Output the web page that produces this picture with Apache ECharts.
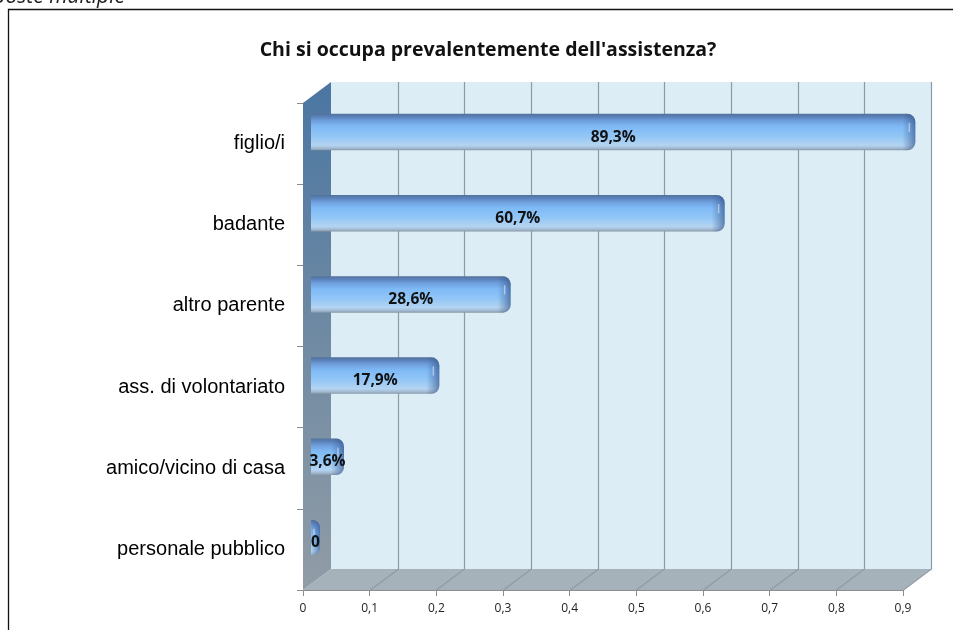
<!DOCTYPE html>
<html>
<head>
<meta charset="utf-8">
<script src="https://cdn.jsdelivr.net/npm/echarts@6/dist/echarts.min.js"></script>
<style>
  html, body { margin: 0; padding: 0; background: #ffffff; }
  #chart { width: 953px; height: 630px; }
</style>
</head>
<body>
<div id="chart"></div>
<script>
// Who mainly provides care (multiple answers allowed)
const categories = [
  'figlio/i',
  'badante',
  'altro parente',
  'ass. di volontariato',
  'amico/vicino di casa',
  'personale pubblico'
];
const shares = [0.893, 0.607, 0.286, 0.179, 0.036, 0];

const axisMin = 0;
const axisMax = 0.9;
const axisStep = 0.1;

const titleText = "Chi si occupa prevalentemente dell'assistenza?";
const noteText = 'Risposte multiple';

// perspective offset of the back wall relative to the front plane
const DEPTH_X = 28;
const DEPTH_Y = -21;

function shareLabel(v) {
  return v === 0 ? '0' : (v * 100).toFixed(1).replace('.', ',') + '%';
}
function tickLabel(v) {
  return v === 0 ? '0' : (Math.round(v * 10) / 10).toFixed(1).replace('.', ',');
}

// back wall, floor, left wall and the receding grid lines
function renderWalls(params, api) {
  const cs = params.coordSys;
  const left = cs.x, top = cs.y;
  const right = cs.x + cs.width, bottom = cs.y + cs.height;
  const children = [];
  children.push({
    type: 'rect',
    shape: { x: left + DEPTH_X, y: top + DEPTH_Y, width: cs.width, height: cs.height },
    style: { fill: '#dcedf6' }
  });
  children.push({
    type: 'polygon',
    shape: { points: [[left, bottom], [left + DEPTH_X, bottom + DEPTH_Y], [right + DEPTH_X, bottom + DEPTH_Y], [right, bottom]] },
    style: { fill: '#a5b2b9' }
  });
  const steps = Math.round((axisMax - axisMin) / axisStep);
  for (let k = 1; k <= steps; k++) {
    const x = Math.round(api.coord([axisMin + k * axisStep, 0])[0]) + 0.5;
    children.push({
      type: 'polyline',
      shape: { points: [[x, bottom], [x + DEPTH_X, bottom + DEPTH_Y], [x + DEPTH_X, top + DEPTH_Y]] },
      style: { stroke: '#8f9ba3', lineWidth: 1.2, fill: null }
    });
  }
  children.push({
    type: 'polygon',
    shape: { points: [[left, top], [left + DEPTH_X, top + DEPTH_Y], [left + DEPTH_X, bottom + DEPTH_Y], [left, bottom]] },
    style: {
      fill: new echarts.graphic.LinearGradient(0, 0, 0, 1, [
        { offset: 0, color: '#4a76a2' },
        { offset: 0.5, color: '#6f8aa3' },
        { offset: 1, color: '#919ca6' }
      ])
    }
  });
  return { type: 'group', children: children };
}

// bevelled horizontal bar sitting halfway into the depth
function renderBar(params, api) {
  const v = api.value(0);
  const idx = api.value(1);
  const base = api.coord([0, idx]);
  const end = api.coord([v, idx]);
  const band = api.size([0, 1])[1];
  const h = band * 0.45;
  const cy = base[1] + DEPTH_Y / 2 - 1;
  const x0 = base[0] + 8;
  const x1 = Math.max(end[0] + DEPTH_X / 2 + 3, x0 + 9);
  const top = cy - h / 2;
  const w = x1 - x0;
  const capW = Math.min(13, w);
  return {
    type: 'group',
    children: [
      {
        type: 'rect',
        shape: { x: x0, y: top, width: w, height: h, r: [0, 8, 8, 0] },
        style: {
          fill: new echarts.graphic.LinearGradient(0, 0, 0, 1, [
            { offset: 0, color: '#52729b' },
            { offset: 0.08, color: '#5a80b8' },
            { offset: 0.18, color: '#6c9cda' },
            { offset: 0.35, color: '#7fbaf6' },
            { offset: 0.62, color: '#92c6f6' },
            { offset: 0.86, color: '#b4d4f1' },
            { offset: 0.94, color: '#a3bcd5' },
            { offset: 1, color: '#8796a6' }
          ])
        }
      },
      {
        type: 'rect',
        shape: { x: x1 - capW, y: top, width: capW, height: h, r: [0, 8, 8, 0] },
        style: {
          fill: new echarts.graphic.LinearGradient(0, 0, 1, 0, [
            { offset: 0, color: 'rgba(60,95,150,0)' },
            { offset: 0.45, color: 'rgba(60,95,150,0.3)' },
            { offset: 1, color: 'rgba(50,80,130,0.65)' }
          ])
        }
      },
      {
        type: 'line',
        shape: { x1: x1 - 6, y1: top + 9, x2: x1 - 6, y2: cy },
        style: { stroke: 'rgba(255,255,255,0.45)', lineWidth: 1.5 }
      },
      {
        type: 'text',
        style: {
          text: shareLabel(v),
          x: (x0 + x1) / 2,
          y: cy + 5,
          align: 'center',
          verticalAlign: 'middle',
          fontFamily: 'Open Sans',
          fontWeight: 'bold',
          fontSize: 15.5,
          fill: '#111111'
        }
      }
    ]
  };
}

const chart = echarts.init(document.getElementById('chart'), null, { renderer: 'canvas' });

chart.setOption({
  animation: false,
  backgroundColor: '#ffffff',
  title: {
    text: titleText,
    left: 483,
    top: 35,
    textAlign: 'center',
    textStyle: { fontFamily: 'Open Sans', fontWeight: 'bold', fontSize: 19.5, color: '#111111' }
  },
  graphic: [
    {
      type: 'rect',
      shape: { x: 8.5, y: 9.5, width: 1000, height: 700 },
      style: { fill: null, stroke: '#111111', lineWidth: 1.3 },
      z: 10
    },
    {
      type: 'text',
      x: 125,
      y: -3,
      style: {
        text: noteText,
        align: 'right',
        verticalAlign: 'middle',
        fontFamily: 'Open Sans',
        fontStyle: 'italic',
        fontSize: 21,
        fill: '#222222'
      },
      z: 10
    }
  ],
  grid: {
    left: 303,
    top: 103,
    width: 600,
    height: 487,
    containLabel: false,
    outerBoundsMode: 'none'
  },
  xAxis: {
    type: 'value',
    min: axisMin,
    max: axisMax,
    interval: axisStep,
    z: 5,
    splitLine: { show: false },
    axisLine: { show: true, lineStyle: { color: '#8c8c8c', width: 1 } },
    axisTick: { show: true, length: 6, lineStyle: { color: '#8c8c8c' } },
    axisLabel: {
      formatter: tickLabel,
      fontFamily: 'Open Sans',
      fontSize: 12,
      color: '#222222',
      margin: 13
    }
  },
  yAxis: {
    type: 'category',
    inverse: true,
    data: categories,
    z: 5,
    axisLine: { show: false },
    axisTick: { show: true, length: 6, lineStyle: { color: '#8c8c8c' } },
    axisLabel: {
      fontFamily: 'Liberation Sans',
      fontSize: 20,
      color: '#000000',
      margin: 18
    },
    splitLine: { show: false }
  },
  series: [
    {
      type: 'custom',
      name: 'walls',
      silent: true,
      z: 1,
      renderItem: renderWalls,
      encode: { x: 0, y: 1 },
      data: [[0, 0]]
    },
    {
      type: 'custom',
      name: 'quota',
      z: 3,
      renderItem: renderBar,
      encode: { x: 0, y: 1 },
      data: shares.map(function (v, i) { return [v, i]; })
    }
  ]
});
</script>
</body>
</html>
